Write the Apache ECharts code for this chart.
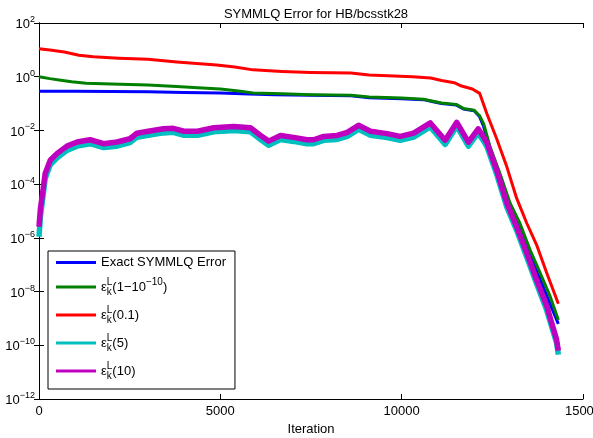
<!DOCTYPE html>
<html>
<head>
<meta charset="utf-8">
<script src="https://cdn.jsdelivr.net/npm/echarts@6/dist/echarts.min.js"></script>
<style>
html,body{margin:0;padding:0;background:#fff;}
#chart{width:593px;height:438px;}
</style>
</head>
<body>
<div id="chart"></div>
<script>
// ---- data ----
var seriesNames = ['Exact SYMMLQ Error', 'eps(1-1e-10)', 'eps(0.1)', 'eps(5)', 'eps(10)'];

var exactIter = [0,1000,2000,3000,4000,5000,5800,6500,7500,8600,9100,10000,10600,10900,11100,11500,11700,12000,12150,12260,12440,12710,12990,13260,13540,13820,14090,14320];
var exactVal  = [2.9e-1,2.9e-1,2.8e-1,2.75e-1,2.6e-1,2.45e-1,2.25e-1,2.15e-1,2.05e-1,1.95e-1,1.65e-1,1.5e-1,1.4e-1,1.15e-1,1.0e-1,8.9e-2,6.3e-2,5.4e-2,3.2e-2,1.4e-2,1.8e-3,1.8e-4,1.4e-5,2.0e-6,2.2e-7,2.8e-8,3.5e-9,6.3e-10];

var greenIter = [0,300,600,900,1300,2000,3000,3800,4500,5000,5500,5900,6700,7500,8600,9100,10000,10600,10900,11100,11500,11700,12000,12150,12260,12440,12710,12990,13260,13540,13820,14090,14320];
var greenVal  = [1.0,8.5e-1,7.4e-1,6.5e-1,5.75e-1,5.4e-1,4.9e-1,4.3e-1,3.8e-1,3.5e-1,2.95e-1,2.5e-1,2.3e-1,2.15e-1,2.05e-1,1.75e-1,1.6e-1,1.45e-1,1.2e-1,1.05e-1,9.3e-2,6.6e-2,5.6e-2,3.5e-2,1.8e-2,2.4e-3,2.5e-4,1.95e-5,3.5e-6,3.6e-7,4.9e-8,6.8e-9,8.7e-10];

var redIter = [0,300,700,1100,1500,2200,3000,3800,4900,5400,5900,6700,7500,8600,9100,10300,10800,11100,11450,11650,11950,12150,12350,12620,12900,13170,13450,13720,14000,14320];
var redVal  = [11,9.8,8.3,6.3,5.5,4.9,4.5,3.55,2.75,2.3,1.8,1.58,1.45,1.37,1.17,1.0,8.9e-1,7.2e-1,6.0e-1,4.5e-1,3.5e-1,2.4e-1,4.2e-2,4.9e-3,4.4e-4,3.0e-5,3.5e-6,5.5e-7,4.9e-8,3.5e-9];

var noisyIter = [0,40,110,170,310,500,770,1050,1410,1780,2150,2510,2700,2970,3430,3700,4000,4370,4820,5370,5830,6110,6330,6660,7020,7390,7570,7850,8220,8500,8810,9140,9600,9960,10330,10790,11200,11520,11840,12110,12260,12350,12620,12900,13170,13450,13720,14000,14270,14320];
var cyanVal = [1.1e-6,6.3e-6,3.5e-5,1.6e-4,5.2e-4,9.5e-4,1.8e-3,2.6e-3,3.2e-3,2.3e-3,2.6e-3,3.5e-3,5.6e-3,6.5e-3,8.1e-3,8.5e-3,6.6e-3,6.6e-3,8.9e-3,1.0e-2,8.9e-3,4.6e-3,2.8e-3,4.6e-3,3.9e-3,3.2e-3,3.2e-3,4.3e-3,4.6e-3,6.0e-3,1.1e-2,6.6e-3,5.4e-3,4.3e-3,5.6e-3,1.35e-2,3.0e-3,1.45e-2,2.6e-3,8.1e-3,4.0e-3,2.5e-3,2.3e-4,1.4e-5,1.9e-6,1.9e-7,1.95e-8,2.0e-9,1.26e-10,4.5e-11];
var magentaVal = [2.6e-6,1.26e-5,6.0e-5,2.5e-4,7.8e-4,1.4e-3,2.6e-3,3.7e-3,4.5e-3,3.2e-3,3.7e-3,4.9e-3,7.9e-3,9.1e-3,1.15e-2,1.2e-2,9.3e-3,9.3e-3,1.26e-2,1.4e-2,1.26e-2,6.5e-3,4.0e-3,6.5e-3,5.5e-3,4.5e-3,4.5e-3,6.0e-3,6.5e-3,8.5e-3,1.55e-2,9.3e-3,7.6e-3,6.0e-3,7.9e-3,1.9e-2,4.3e-3,2.0e-2,3.7e-3,1.15e-2,5.6e-3,3.5e-3,3.3e-4,1.95e-5,2.6e-6,2.7e-7,2.75e-8,2.9e-9,1.66e-10,6.3e-11];

var xTicks = [0, 5000, 10000, 15000];

// ---- build ----
function pairs(xs, ys){ var out=[]; for(var i=0;i<xs.length;i++){ out.push([xs[i], ys[i]]); } return out; }

var FONT = '"Liberation Sans", Arial, Helvetica, sans-serif';
var LH = 20;
var legendRich = {
  t: {fontSize: 13, fontFamily: FONT, color: '#000', lineHeight: LH, verticalAlign: 'middle'},
  e: {fontSize: 13, fontFamily: FONT, color: '#000', lineHeight: LH, verticalAlign: 'middle'},
  k: {fontSize: 10, fontFamily: FONT, color: '#000', verticalAlign: 'bottom', width: 0, lineHeight: LH},
  L: {fontSize: 10, fontFamily: FONT, color: '#000', verticalAlign: 'top', lineHeight: LH},
  p: {fontSize: 10, fontFamily: FONT, color: '#000', verticalAlign: 'top', lineHeight: LH},
  plain: {fontSize: 13, fontFamily: FONT, color: '#000', lineHeight: 14}
};
var legendText = {
  'Exact SYMMLQ Error': '{plain|Exact SYMMLQ Error}',
  'eps(1-1e-10)': '{e|ε}{k|k}{L|L}{t|(1−10}{p|−10}{t|)}',
  'eps(0.1)': '{e|ε}{k|k}{L|L}{t|(0.1)}',
  'eps(5)': '{e|ε}{k|k}{L|L}{t|(5)}',
  'eps(10)': '{e|ε}{k|k}{L|L}{t|(10)}'
};

var colors = ['#0000ff', '#007f00', '#ff0000', '#00bfbf', '#bf00bf'];
var widths = [3, 3, 3, 5.5, 5.5];
var datas = [pairs(exactIter, exactVal), pairs(greenIter, greenVal), pairs(redIter, redVal), pairs(noisyIter, cyanVal), pairs(noisyIter, magentaVal)];

var series = [];
for (var i = 0; i < 5; i++) {
  series.push({
    name: seriesNames[i], type: 'line', data: datas[i], showSymbol: false, symbol: 'none',
    xAxisIndex: 0, yAxisIndex: 0,
    lineStyle: {color: colors[i], width: widths[i], join: 'round'},
    itemStyle: {color: colors[i]},
    emphasis: {disabled: true}, z: 2 + i
  });
}

var axisLine = {show: true, lineStyle: {color: '#000', width: 1}};
var tick = {show: true, inside: true, length: 5, lineStyle: {color: '#000'}};

var chart = echarts.init(document.getElementById('chart'), null, {renderer: 'canvas'});
chart.setOption({
  animation: false,
  backgroundColor: '#fff',
  color: colors,
  title: {text: 'SYMMLQ Error for HB/bcsstk28', left: 311, top: 3, textAlign: 'center',
          textStyle: {fontSize: 13, fontWeight: 'normal', fontFamily: FONT, color: '#000'}},
  grid: {left: 39, right: 10, top: 23, bottom: 39, containLabel: false, outerBoundsMode: 'none'},
  legend: {
    orient: 'vertical', left: 48, top: 251, padding: [5, 9, 8, 8],
    itemWidth: 40, itemHeight: 12, itemGap: 8,
    backgroundColor: '#fff', borderColor: '#000', borderWidth: 1, borderRadius: 0,
    data: seriesNames.map(function(n){ return {name: n, icon: 'path://M0,0 L40,0 L40,3 L0,3 Z'}; }),
    formatter: function(n){ return legendText[n]; },
    textStyle: {rich: legendRich, fontFamily: FONT, fontSize: 13, color: '#000'},
    selectedMode: false
  },
  xAxis: [
    {type: 'value', min: 0, max: 15000, interval: 5000, position: 'bottom',
     name: 'Iteration', nameLocation: 'middle', nameGap: 23,
     nameTextStyle: {fontSize: 13, fontFamily: FONT, color: '#000'},
     axisLine: axisLine, axisTick: tick, splitLine: {show: false},
     axisLabel: {show: true, margin: 6, fontSize: 13, fontFamily: FONT, color: '#000',
                 formatter: function(v){ return xTicks.indexOf(v) >= 0 ? String(v) : ''; }}},
    {type: 'value', min: 0, max: 15000, interval: 5000, position: 'top',
     axisLine: axisLine, axisTick: tick, axisLabel: {show: false}, splitLine: {show: false}}
  ],
  yAxis: [
    {type: 'log', logBase: 10, min: 1e-12, max: 1e2, interval: 2, position: 'left',
     axisLine: axisLine, axisTick: tick, minorTick: {show: false}, splitLine: {show: false},
     axisLabel: {show: true, margin: 4, fontFamily: FONT, color: '#000',
       formatter: function(v){ var e = Math.round(Math.log(v)/Math.LN10); return '{b|10}{s|' + (e < 0 ? '−' + (-e) : e) + '}'; },
       rich: {b: {fontSize: 13, fontFamily: FONT, color: '#000', verticalAlign: 'bottom', lineHeight: 16},
              s: {fontSize: 9, fontFamily: FONT, color: '#000', verticalAlign: 'top', lineHeight: 16}}}},
    {type: 'log', logBase: 10, min: 1e-12, max: 1e2, interval: 2, position: 'right',
     axisLine: axisLine, axisTick: tick, minorTick: {show: false}, splitLine: {show: false}, axisLabel: {show: false}}
  ],
  series: series
});
</script>
</body>
</html>
